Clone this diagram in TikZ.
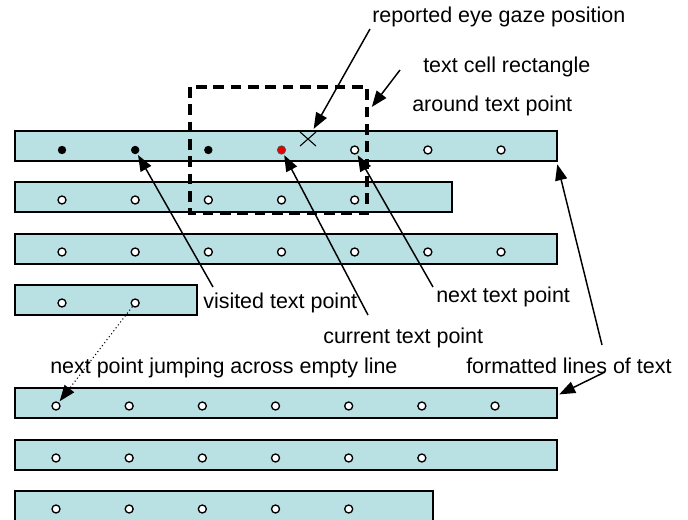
\documentclass[tikz,border=0pt]{standalone}
\usepackage{fontspec}
\setmainfont{Liberation Sans}
\usetikzlibrary{arrows.meta}

\definecolor{linefill}{RGB}{185,224,227}
\definecolor{curdot}{RGB}{235,0,0}

\tikzset{
  textline/.style={draw=black, line width=1.1pt, fill=linefill},
  visited/.style={circle, fill=black, inner sep=0pt, minimum size=6.3pt},
  pending/.style={circle, draw=black, line width=1pt, fill=white, inner sep=0pt, minimum size=6pt},
  current/.style={circle, draw=black!70, line width=0.5pt, fill=curdot, inner sep=0pt, minimum size=6.3pt},
  cellbox/.style={line width=2.4pt, dash pattern=on 8pt off 5pt},
  note/.style={anchor=base west, inner sep=0pt, font=\fontsize{16.1pt}{19pt}\selectfont},
  pointer/.style={line width=1.1pt, shorten >=1pt, -{Triangle[length=12pt,width=9pt]}},
}

\begin{document}
\begin{tikzpicture}[x=0.75pt,y=0.75pt,yscale=-1,xscale=1]
    \useasboundingbox (0,0) rectangle (688,520);

    %Shape: Rectangles (formatted lines)
    \foreach \r/\top/\right in {1/131/557, 2/182/452, 3/234/557, 4/285/197, 5/388/557, 6/440/557, 7/491/433}
      \draw[textline] (15,\top) rectangle (\right,\top+30);

    %Shape: Circles (text points)
    \foreach \i/\kind in {1/visited, 2/visited, 3/visited, 4/current, 5/pending, 6/pending, 7/pending}
      \node[\kind] (p-1-\i) at ({62+73.17*(\i-1)},150) {};
    \foreach \r/\top/\n/\first in {2/182/5/62, 3/234/7/62, 4/285/2/62, 5/388/7/56, 6/440/6/56, 7/491/5/56}
      \foreach \i in {1,...,\n}
        \node[pending] (p-\r-\i) at ({\first+73.17*(\i-1)},\top+18) {};

    %Shape: Dashed rectangle (text cell)
    \draw[cellbox] (190,87) rectangle (367,213);

    %Shape: Cross (gaze position)
    \coordinate (gaze) at (308,139);
    \draw[line width=0.8pt] (gaze) +(-8,-7) -- +(8,7) (gaze) +(-8,7) -- +(8,-7);

    %Text labels
    \node[note] (eye) at (372,23) {reported eye gaze position};
    \node[note] (cellnote) at (423,73) {text cell rectangle};
    \node[note] (cellnote2) at (412,112) {around text point};
    \node[note] (visitednote) at (203,308) {visited text point};
    \node[note] (nextnote) at (436,302) {next text point};
    \node[note] (currentnote) at (323,343) {current text point};
    \node[note] (jumpnote) at (50,373) {next point jumping across empty line};
    \node[note] (formatnote) at (466,373) {formatted lines of text};

    %Arrow ends
    \coordinate (eyefrom) at (370,29);
    \coordinate (gazetip) at (313,130);
    \coordinate (cellfrom) at (400,70);
    \coordinate (celltip) at (371,108);
    \coordinate (visitedfrom) at (213,287);
    \coordinate (currentfrom) at (368,315);
    \coordinate (nextfrom) at (433,287);
    \coordinate (formatfrom) at (602,345);
    \coordinate (formatfrom2) at (605,372);
    \coordinate (linetip) at (557,163);
    \coordinate (linetip2) at (558,395);

    %Straight Lines (arrows)
    \draw[pointer] (eyefrom) -- (gazetip);
    \draw[pointer] (cellfrom) -- (celltip);
    \draw[pointer] (visitedfrom) -- (p-1-2);
    \draw[pointer] (currentfrom) -- (p-1-4);
    \draw[pointer] (nextfrom) -- (p-1-5);
    \draw[pointer] (formatfrom) -- (linetip);
    \draw[pointer] (formatfrom2) -- (linetip2);
    \draw[pointer, line width=0.8pt, dotted] (p-4-2) -- (p-5-1);

\end{tikzpicture}
\end{document}
